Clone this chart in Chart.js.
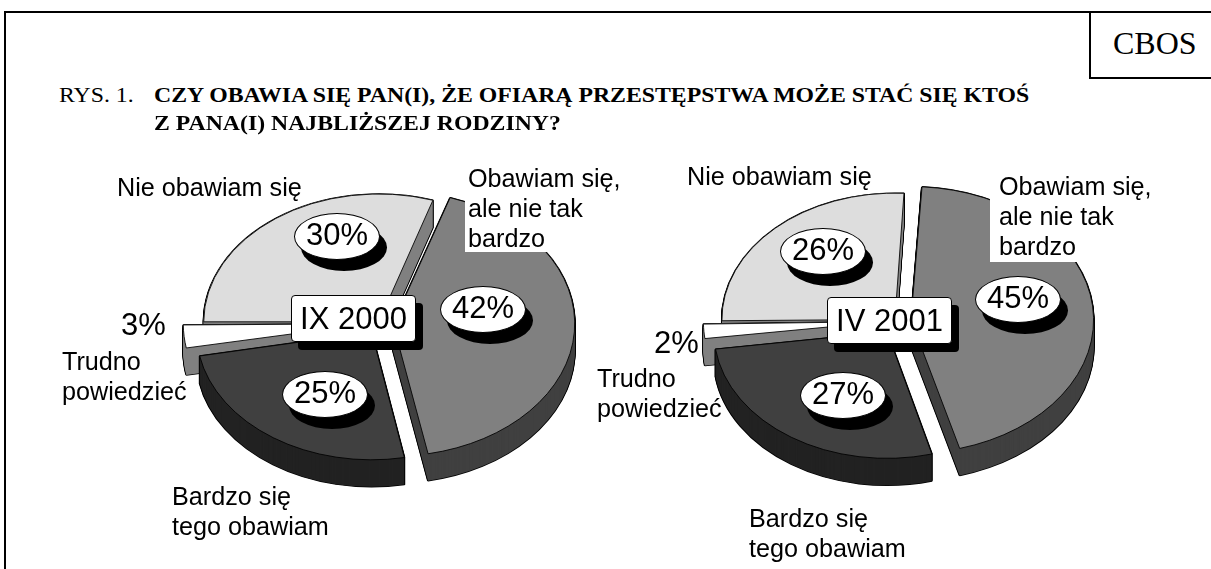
<!DOCTYPE html>
<html lang="pl">
<head>
<meta charset="UTF-8">
<title>Rys. 1</title>
<script src="https://cdn.jsdelivr.net/npm/chart.js"></script>
<style>
    html, body { margin: 0; padding: 0; background: #fff; overflow: hidden; }
    #page { position: relative; width: 1211px; height: 569px; overflow: hidden; font-family: "Liberation Sans", sans-serif; color: #000; }
    #page canvas { position: absolute; }
    .line { position: absolute; background: #000; }
    .txt { position: absolute; white-space: pre; font-size: 25.2px; line-height: 30px; }
    .serif { font-family: "Liberation Serif", serif; }
    .head { font-size: 22px; line-height: 26px; transform: scaleX(1.08); transform-origin: left top; }
    .bubble, .tag { position: absolute; background: #fff; border: 1px solid #000; box-sizing: border-box; font-size: 31px; display: flex; align-items: center; justify-content: center; }
    .bubble { border-radius: 50%; box-shadow: 7px 11px 0 #000; padding-bottom: 3px; }
    .tag { border-radius: 4px; box-shadow: 7px 8px 0 #000; }
    .cover { position: absolute; background: #fff; }
</style>
</head>
<body>
<div id="page"></div>

<script>
    // slices go clockwise from the top of each pie
    const categories = ['Obawiam się, ale nie tak bardzo', 'Bardzo się tego obawiam', 'Trudno powiedzieć', 'Nie obawiam się'];
    const values2000 = [42, 25, 3, 30];
    const values2001 = [45, 27, 2, 26];
    const periods = ['IX 2000', 'IV 2001'];

    const topColors = ['#808080', '#404040', '#ffffff', '#dddddd'];
    const sideColors = ['#404040', '#222222', '#808080', '#808080'];

    const squash = 0.73;
    const depth = 27;

    const page = document.getElementById('page');

    function addText(cls, text, x, y, extra) {
        const el = document.createElement('div');
        el.className = cls;
        el.textContent = text;
        el.style.left = x + 'px';
        el.style.top = y + 'px';
        if (extra) Object.assign(el.style, extra);
        page.appendChild(el);
        return el;
    }

    function addBox(cls, x, y, w, h) {
        const el = document.createElement('div');
        el.className = cls;
        el.style.cssText = `left:${x}px;top:${y}px;width:${w}px;height:${h}px`;
        page.appendChild(el);
        return el;
    }

    // draws one arc with other colours, the element itself keeps its options
    function drawArc(ctx, arc, overrides) {
        const saved = arc.options;
        arc.options = Object.assign(Object.create(saved), overrides);
        arc.draw(ctx);
        arc.options = saved;
    }

    const pie3d = {
        id: 'pie3d',
        beforeDatasetsDraw(chart) {
            const ctx = chart.ctx;
            const cy = chart.height / 2;
            const arcs = chart.getDatasetMeta(0).data;
            const squashed = d => {
                ctx.translate(0, d + cy);
                ctx.scale(1, squash);
                ctx.translate(0, -cy);
            };
            // order: back slices first
            [3, 2, 0, 1].forEach(i => {
                for (let d = depth; d >= 0; d--) {
                    ctx.save();
                    squashed(d);
                    drawArc(ctx, arcs[i], { backgroundColor: '#000', borderColor: '#000', borderWidth: 2 });
                    ctx.restore();
                }
                for (let d = depth; d >= 0; d--) {
                    ctx.save();
                    squashed(d);
                    drawArc(ctx, arcs[i], { backgroundColor: sideColors[i], borderWidth: 0 });
                    ctx.restore();
                }
            });
            ctx.save();
            squashed(0);
        },
        afterDatasetsDraw(chart) {
            chart.ctx.restore();
        }
    };

    function makePie(x, y, values, rotation, radius, offsets) {
        const canvas = document.createElement('canvas');
        canvas.width = 520;
        canvas.height = 420;
        canvas.style.left = (x - 260) + 'px';
        canvas.style.top = (y - 210) + 'px';
        page.appendChild(canvas);
        new Chart(canvas.getContext('2d'), {
            type: 'pie',
            data: {
                labels: categories,
                datasets: [{
                    data: values,
                    backgroundColor: topColors,
                    borderColor: '#000',
                    borderWidth: 1,
                    offset: offsets,
                    clip: false
                }]
            },
            options: {
                responsive: false,
                animation: false,
                rotation: rotation,
                radius: radius,
                plugins: { legend: { display: false }, tooltip: { enabled: false } }
            },
            plugins: [pie3d]
        });
    }

    makePie(380, 323, values2000, 18, 175, [52, 60, 48, 8]);
    makePie(897, 321, values2001, 3, 173, [56, 72, 44, 12]);

    // frame
    addBox('line', 4, 11, 1207, 2);
    addBox('line', 4, 11, 2, 558);
    addBox('line', 1089, 11, 2, 67);
    addBox('line', 1089, 77, 122, 2);
    addText('txt serif', 'CBOS', 1113, 23, { fontSize: '32px', lineHeight: '40px' });

    addText('txt serif head', 'RYS. 1.', 59, 82);
    addText('txt serif head', 'CZY OBAWIA SIĘ PAN(I), ŻE OFIARĄ PRZESTĘPSTWA MOŻE STAĆ SIĘ KTOŚ', 154, 82, { fontWeight: 'bold' });
    addText('txt serif head', 'Z PANA(I) NAJBLIŻSZEJ RODZINY?', 154, 110, { fontWeight: 'bold' });

    // first pie labels
    addBox('cover', 465, 160, 160, 92);
    addText('txt', 'Obawiam się,\nale nie tak\nbardzo', 468, 163);
    addText('txt', 'Nie obawiam się', 117, 172);
    addText('txt', 'Trudno\npowiedzieć', 62, 346);
    addText('txt', 'Bardzo się\ntego obawiam', 172, 481);
    addText('txt', values2000[2] + '%', 121, 307, { fontSize: '31px', lineHeight: '36px' });

    const bubbles2000 = [[440, 286], [282, 371], null, [294, 213]];
    values2000.forEach((v, i) => {
        if (!bubbles2000[i]) return;
        const b = addBox('bubble', bubbles2000[i][0], bubbles2000[i][1], 86, 47);
        b.textContent = v + '%';
    });
    addBox('tag', 291, 295, 125, 47).textContent = periods[0];

    // second pie labels
    addBox('cover', 990, 165, 160, 97);
    addText('txt', 'Obawiam się,\nale nie tak\nbardzo', 999, 171);
    addText('txt', 'Nie obawiam się', 687, 161);
    addText('txt', 'Trudno\npowiedzieć', 597, 363);
    addText('txt', 'Bardzo się\ntego obawiam', 749, 503);
    addText('txt', values2001[2] + '%', 654, 325, { fontSize: '31px', lineHeight: '36px' });

    const bubbles2001 = [[975, 276], [800, 372], null, [780, 228]];
    values2001.forEach((v, i) => {
        if (!bubbles2001[i]) return;
        const b = addBox('bubble', bubbles2001[i][0], bubbles2001[i][1], 86, 47);
        b.textContent = v + '%';
    });
    addBox('tag', 827, 297, 125, 47).textContent = periods[1];
</script>
</body>
</html>
